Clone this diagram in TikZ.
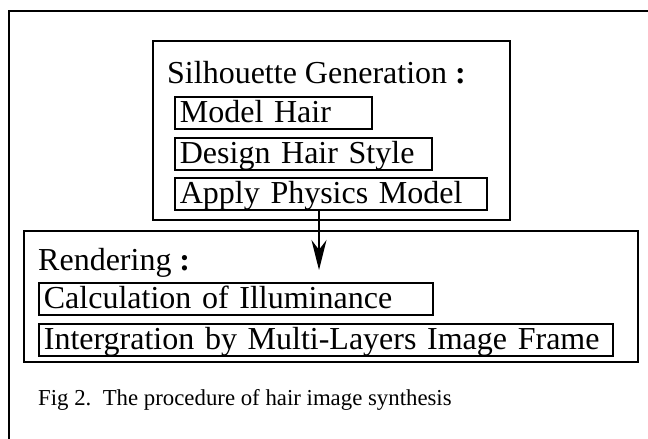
\documentclass[tikz,border=0pt]{standalone}
\usepackage{fontspec}
\setmainfont{Liberation Serif}
\usetikzlibrary{arrows.meta}
\newcommand{\bigcolon}{\textbf{:}}
\begin{document}
\begin{tikzpicture}[x=1pt,y=-1pt,
  frameline/.style={line width=2.4pt},
  outerbox/.style={draw, line width=1.9pt, anchor=north west, inner sep=0pt},
  item/.style={draw, line width=1.7pt, anchor=north west, inner xsep=5pt, inner ysep=0pt,
    text height=26pt, text depth=6pt, text width=#1, align=left, font=\fontsize{32}{32}\selectfont},
  heading/.style={anchor=base west, inner sep=0pt, font=\fontsize{32}{32}\selectfont},
  captiontext/.style={anchor=base west, inner sep=0pt, font=\fontsize{22.8}{22.8}\selectfont},
  flow/.style={line width=1.6pt, -{Stealth[length=30pt,width=15pt]}}]
\useasboundingbox (0,0) rectangle (648,439);
\draw[frameline] (9,439) -- (9,11) -- (648,11);
% silhouette group
\node[outerbox, minimum width=357pt, minimum height=179pt] (sil) at (152,40) {};
\node[heading] (silt) at (167,83) {Silhouette Generation \bigcolon};
\node[item=187pt] (mh) at (174,96) {Model Hair};
\node[item=247pt] (dh) at (174,137) {Design Hair Style};
\node[item=302pt] (ap) at (174,177) {Apply Physics Model};
% rendering group
\node[outerbox, minimum width=614pt, minimum height=131pt] (ren) at (23,230) {};
\node[heading] (rent) at (38,270) {Rendering \bigcolon};
\node[item=384pt] (calc) at (38,282) {Calculation of Illuminance};
\node[item=564pt] (integ) at (38,323) {\mbox{Intergration by Multi-Layers Image Frame}};
% arrow
\coordinate (tip) at (319,270);
\draw[flow] (ap.south -| tip) -- (tip);
% caption
\node[captiontext] (cap) at (38,405) {Fig 2.\ \ The procedure of hair image synthesis};
\end{tikzpicture}
\end{document}
